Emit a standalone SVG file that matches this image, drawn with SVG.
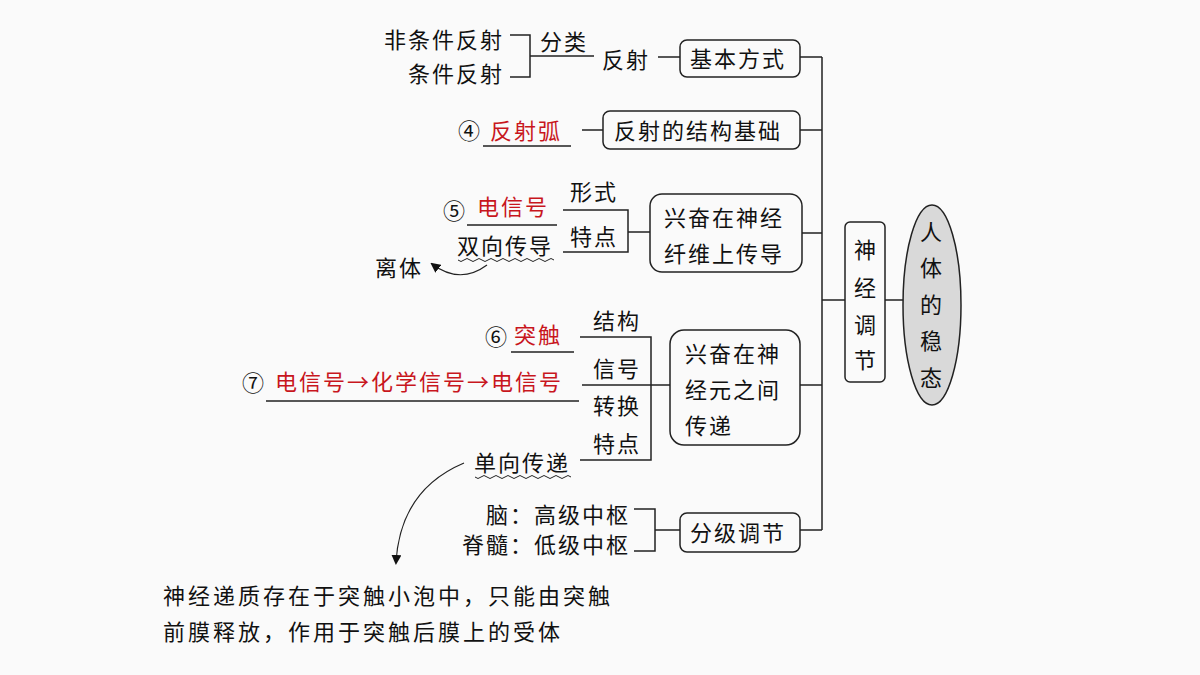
<svg xmlns="http://www.w3.org/2000/svg" width="1200" height="675" viewBox="0 0 1200 675">
<style>
text{font-family:"Noto Sans CJK SC","Noto Sans",sans-serif;font-size:22px;fill:#111;letter-spacing:2px}
.r{fill:#c8161d}
.e{text-anchor:end}
.m{text-anchor:middle}
.box{fill:none;stroke:#222;stroke-width:1.5}
.ln{fill:none;stroke:#222;stroke-width:1.5}
</style>
<defs>
<marker id="ah" markerWidth="10" markerHeight="10" refX="8" refY="5" orient="auto" markerUnits="userSpaceOnUse"><path d="M0,0 L10,5 L0,10 Z" fill="#111"/></marker>
</defs>
<rect width="1200" height="675" fill="#fafafa"/>
<g id="connectors" class="ln">
<path d="M822,57 V530 M800,57 H822 M800,130 H822 M802,233 H822 M800,385 H822 M800,530 H822 M822,300 H845 M885,300 H910"/>
<path d="M510,35 H530 V77 H510 M530,56 H594 M658,57 H680"/>
<path d="M483,146 H571 M582,130 H603"/>
<path d="M467,225 H557 M563,210 H628 V252 H563 M628,232 H650"/>
<path d="M580,337 H651 V460 H580 M582,385 H670 M266,401 H579 M511,352 H574"/>
<path d="M634,509 H655 V551 H634 M655,530 H680"/>
<path d="M458,260 q3,3 6,0 t6,0 t6,0 t6,0 t6,0 t6,0 t6,0 t6,0 t6,0 t6,0 t6,0 t6,0 t6,0 t6,0 t6,0 t6,0" stroke-width="1"/>
<path d="M475,477 q3,3 6,0 t6,0 t6,0 t6,0 t6,0 t6,0 t6,0 t6,0 t6,0 t6,0 t6,0 t6,0 t6,0 t6,0 t6,0 t6,0" stroke-width="1"/>
<path d="M487,265 Q460,285 432,264" stroke-width="1.2" marker-end="url(#ah)"/>
<path d="M464,463 Q400,490 396,563" stroke-width="1.2" marker-end="url(#ah)"/>
</g>
<g id="n-root"><ellipse cx="932" cy="305" rx="29" ry="100" fill="#d9d9d9" stroke="#222" stroke-width="1.5"/>
<text class="m" x="932" y="240">人</text><text class="m" x="932" y="276">体</text><text class="m" x="932" y="313">的</text><text class="m" x="932" y="349">稳</text><text class="m" x="932" y="386">态</text></g>
<g id="n-sjtj"><rect class="box" x="845" y="222" width="40" height="160" rx="5"/>
<text class="m" x="866" y="258">神</text><text class="m" x="866" y="296">经</text><text class="m" x="866" y="333">调</text><text class="m" x="866" y="368">节</text></g>
<g id="n-jbfs"><rect class="box" x="680" y="40" width="120" height="37" rx="7"/><text x="690" y="67">基本方式</text></g>
<g id="n-jgjc"><rect class="box" x="603" y="111" width="197" height="38" rx="7"/><text x="614" y="139">反射的结构基础</text></g>
<g id="n-xwcd"><rect class="box" x="650" y="194" width="152" height="78" rx="12"/><text x="664" y="226">兴奋在神经</text><text x="664" y="262">纤维上传导</text></g>
<g id="n-sjy"><rect class="box" x="670" y="330" width="130" height="115" rx="14"/><text x="685" y="362">兴奋在神</text><text x="685" y="398">经元之间</text><text x="685" y="434">传递</text></g>
<g id="n-fjtj"><rect class="box" x="680" y="513" width="120" height="39" rx="7"/><text x="690" y="541">分级调节</text></g>
<g id="labels">
<text class="e" x="504" y="48">非条件反射</text>
<text class="e" x="504" y="82">条件反射</text>
<text x="540" y="50">分类</text>
<text x="602" y="68">反射</text>
<text x="458" y="139">④</text><text class="r" x="490" y="139">反射弧</text>
<text x="443" y="219">⑤</text><text class="r" x="477" y="215">电信号</text>
<text x="570" y="200">形式</text>
<text x="570" y="245">特点</text>
<text x="457" y="254">双向传导</text>
<text x="375" y="276">离体</text>
<text x="593" y="329">结构</text>
<text x="485" y="345">⑥</text><text class="r" x="514" y="343">突触</text>
<text x="593" y="377">信号</text>
<text x="242" y="391">⑦</text><text class="r" x="275" y="390">电信号→化学信号→电信号</text>
<text x="593" y="414">转换</text>
<text x="593" y="452">特点</text>
<text x="474" y="471">单向传递</text>
<text class="e" x="630" y="523">脑：高级中枢</text>
<text class="e" x="630" y="553">脊髓：低级中枢</text>
<text x="163" y="604" style="letter-spacing:3px">神经递质存在于突触小泡中，只能由突触</text>
<text x="163" y="640" style="letter-spacing:3px">前膜释放，作用于突触后膜上的受体</text>
</g>
</svg>
